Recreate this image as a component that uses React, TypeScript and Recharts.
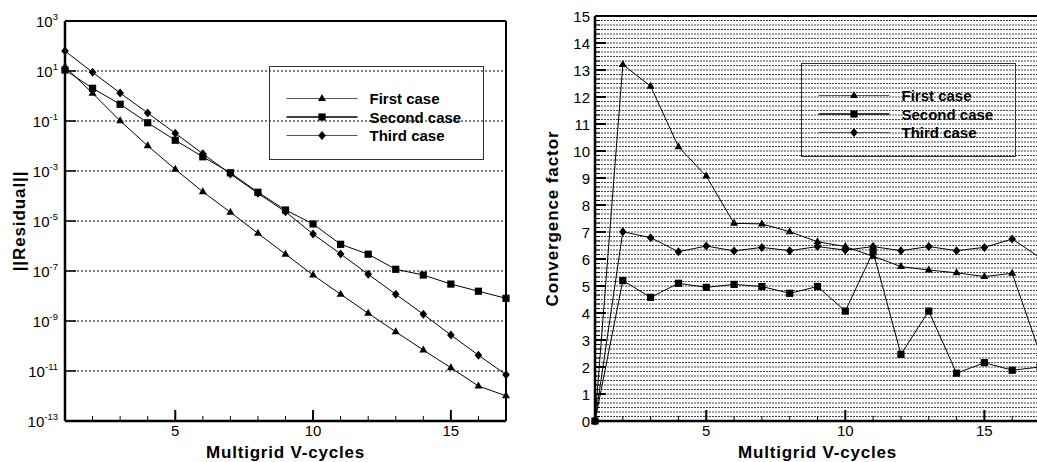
import React from 'react';
import { LineChart, Line, XAxis, YAxis, CartesianGrid, ReferenceLine, Legend, Label } from 'recharts';

// ---------- data ----------
const cycles = [1, 2, 3, 4, 5, 6, 7, 8, 9, 10, 11, 12, 13, 14, 15, 16, 17];
const seriesNames = ['First case', 'Second case', 'Third case'];

const residualFirst = [14.8, 1.29, 0.102, 1.02e-2, 1.17e-3, 1.48e-4, 2.24e-5, 3.2e-6, 4.7e-7, 6.9e-8, 1.17e-8, 2.04e-9, 3.7e-10, 6.9e-11, 1.35e-11, 2.5e-12, 1.02e-12];
const residualSecond = [11.0, 2.04, 0.468, 8.5e-2, 1.7e-2, 3.7e-3, 8.5e-4, 1.41e-4, 2.75e-5, 7.6e-6, 1.17e-6, 4.7e-7, 1.17e-7, 6.9e-8, 3.0e-8, 1.55e-8, 8.1e-9];
const residualThird = [63.1, 8.9, 1.32, 0.209, 3.24e-2, 4.9e-3, 7.6e-4, 1.29e-4, 2.34e-5, 3.0e-6, 4.8e-7, 7.4e-8, 1.17e-8, 1.86e-9, 2.75e-10, 4.3e-11, 7.1e-12];

const factorFirst = [0, 13.2, 12.4, 10.16, 9.07, 7.32, 7.3, 7.01, 6.64, 6.46, 6.1, 5.72, 5.59, 5.49, 5.35, 5.47, 2.5];
const factorSecond = [0, 5.2, 4.58, 5.1, 4.95, 5.06, 4.98, 4.73, 4.98, 4.07, 6.27, 2.47, 4.07, 1.77, 2.16, 1.88, 2.0];
const factorThird = [0, 7.01, 6.79, 6.27, 6.48, 6.3, 6.43, 6.31, 6.46, 6.33, 6.46, 6.31, 6.46, 6.31, 6.43, 6.74, 6.05];

// ---------- ticks ----------
const xTicks = cycles;
const xMajorTicks = [5, 10, 15];
const residualTicks = [1e3, 1e1, 1e-1, 1e-3, 1e-5, 1e-7, 1e-9, 1e-11, 1e-13];
const factorMinorPerUnit = 6;
const factorTicks = Array.from({ length: 15 * factorMinorPerUnit + 1 }, (_, i) => i / factorMinorPerUnit);

// ---------- tables ----------
const residualData = cycles.map((c, i) => ({
  cycle: c,
  first: residualFirst[i],
  second: residualSecond[i],
  third: residualThird[i],
}));
const factorData = cycles.map((c, i) => ({
  cycle: c,
  first: factorFirst[i],
  second: factorSecond[i],
  third: factorThird[i],
}));

const FONT = "'Liberation Sans', Arial, Helvetica, sans-serif";
const TICK_FONT = 15;

// ---------- markers ----------
const Marker = ({ shape, cx, cy }: { shape: number; cx: number; cy: number }) => {
  if (shape === 0) {
    return <polygon points={`${cx},${cy - 4.5} ${cx - 4},${cy + 2.5} ${cx + 4},${cy + 2.5}`} fill="#000" />;
  }
  if (shape === 1) {
    return <rect x={cx - 3.6} y={cy - 3.6} width={7.2} height={7.2} fill="#000" />;
  }
  return <polygon points={`${cx},${cy - 4.5} ${cx + 3.8},${cy} ${cx},${cy + 4.5} ${cx - 3.8},${cy}`} fill="#000" />;
};

const makeDot = (shape: number) => (props: any) => {
  const { cx, cy, index } = props;
  if (cx == null || cy == null || isNaN(cx) || isNaN(cy)) return <g key={`d${shape}-${index}`} />;
  return (
    <g key={`d${shape}-${index}`}>
      <Marker shape={shape} cx={cx} cy={cy} />
    </g>
  );
};

// ---------- ticks renderers ----------
const XTick = (props: any) => {
  const { x, y, payload } = props;
  const v = payload.value;
  const major = xMajorTicks.includes(v);
  return (
    <g>
      <line x1={x} x2={x} y1={y} y2={y - (major ? 11 : 5)} stroke="#000" strokeWidth={major ? 2 : 1} />
      {major && (
        <text x={x} y={y + 15} textAnchor="middle" fontSize={TICK_FONT} fontFamily={FONT} fill="#000">
          {v}
        </text>
      )}
    </g>
  );
};

const LogTick = (props: any) => {
  const { x, y, payload } = props;
  const e = Math.round(Math.log10(payload.value));
  return (
    <g>
      <line x1={x} x2={x + 11} y1={y} y2={y} stroke="#000" strokeWidth={1.5} />
      <text x={x - 7} y={y + 6} textAnchor="end" fontSize={TICK_FONT} fontFamily={FONT} fill="#000">
        10
        <tspan dy={-7} fontSize={9.5}>
          {String(e)}
        </tspan>
      </text>
    </g>
  );
};

const FactorTick = (props: any) => {
  const { x, y, payload } = props;
  const v = payload.value;
  const major = Math.abs(v - Math.round(v)) < 1e-6;
  return (
    <g>
      <line x1={x} x2={x + (major ? 11 : 5)} y1={y} y2={y} stroke="#000" strokeWidth={major ? 2 : 1} />
      {major && (
        <text x={x - 5} y={y + 5.5} textAnchor="end" fontSize={TICK_FONT} fontFamily={FONT} fill="#000">
          {Math.round(v)}
        </text>
      )}
    </g>
  );
};

// ---------- legend ----------
const legendStroke = ['#555', '#000', '#555'];
const legendWidth = [1, 1.5, 1];
const LegendBox = () => (
  <svg width={215} height={94} style={{ display: 'block', overflow: 'visible' }}>
    <rect x={0.5} y={0.5} width={214} height={93} fill="none" stroke="#333" strokeWidth={1} />
    {seriesNames.map((name, i) => {
      const yy = 32.5 + i * 18.5;
      return (
        <g key={name}>
          <line x1={17.5} x2={88.5} y1={yy} y2={yy} stroke={legendStroke[i]} strokeWidth={legendWidth[i]} />
          <Marker shape={i} cx={53} cy={yy} />
          <text x={100.5} y={yy + 5.5} fontSize={15} fontWeight="bold" fontFamily={FONT} fill="#000">
            {name}
          </text>
        </g>
      );
    })}
  </svg>
);

// ---------- titles ----------
const xTitle = (props: any) => {
  const vb = props.viewBox || { x: 0, y: 0, width: 0, height: 0 };
  return (
    <text
      x={vb.x + vb.width / 2}
      y={vb.y + 37}
      textAnchor="middle"
      fontSize={17}
      fontWeight="bold"
      letterSpacing={0.8}
      fontFamily={FONT}
      fill="#000"
    >
      Multigrid V-cycles
    </text>
  );
};

const yTitle = (text: string, dx: number, spacing: number) => (props: any) => {
  const vb = props.viewBox || { x: 0, y: 0, width: 0, height: 0 };
  const x = vb.x + dx;
  const y = vb.y + vb.height / 2;
  return (
    <text
      x={x}
      y={y}
      transform={`rotate(-90, ${x}, ${y})`}
      textAnchor="middle"
      fontSize={17}
      fontWeight="bold"
      letterSpacing={spacing}
      fontFamily={FONT}
      fill="#000"
    >
      {text}
    </text>
  );
};

const dotShapes = [0, 1, 2];
const keys = ['first', 'second', 'third'];

export default function App() {
  return (
    <div
      style={{
        position: 'absolute',
        left: 0,
        top: 0,
        width: 1037,
        height: 462,
        overflow: 'hidden',
        background: '#fff',
      }}
    >
      {/* Left: residual */}
      <div style={{ position: 'absolute', left: 0, top: 0 }}>
        <LineChart width={520} height={462} data={residualData} margin={{ top: 21, right: 14, bottom: 11, left: 8 }}>
          <CartesianGrid vertical={false} stroke="#000" strokeDasharray="2 2" strokeWidth={1} />
          <XAxis
            dataKey="cycle"
            type="number"
            domain={[1, 17]}
            ticks={xTicks}
            interval={0}
            height={30}
            tickSize={0}
            tickMargin={0}
            tickLine={false}
            tick={<XTick />}
            axisLine={{ stroke: '#000', strokeWidth: 2.5 }}
          >
            <Label content={xTitle} />
          </XAxis>
          <YAxis
            scale="log"
            domain={[1e-13, 1e3]}
            allowDataOverflow
            ticks={residualTicks}
            interval={0}
            width={57}
            tickSize={0}
            tickMargin={0}
            tickLine={false}
            tick={<LogTick />}
            axisLine={{ stroke: '#000', strokeWidth: 2.5 }}
          >
            <Label content={yTitle('||Residual||', 17, 0.9)} />
          </YAxis>
          <ReferenceLine y={1e3} stroke="#000" strokeWidth={2} />
          <ReferenceLine x={17} stroke="#000" strokeWidth={2} />
          {keys.map((k, i) => (
            <Line
              key={k}
              dataKey={k}
              name={seriesNames[i]}
              stroke="#000"
              strokeWidth={1}
              dot={makeDot(dotShapes[i])}
              activeDot={false}
              isAnimationActive={false}
            />
          ))}
          <Legend
            verticalAlign="middle"
            align="center"
            layout="horizontal"
            content={() => <LegendBox />}
            wrapperStyle={{ left: 269, top: 66, width: 215, height: 94 }}
          />
        </LineChart>
      </div>

      {/* Right: convergence factor */}
      <div style={{ position: 'absolute', left: 520, top: 0 }}>
        <LineChart width={540} height={462} data={factorData} margin={{ top: 16, right: 20, bottom: 11, left: 8 }}>
          <CartesianGrid vertical={false} stroke="#444" strokeDasharray="2 1" strokeWidth={1} />
          <XAxis
            dataKey="cycle"
            type="number"
            domain={[1, 17]}
            ticks={xTicks}
            interval={0}
            height={30}
            tickSize={0}
            tickMargin={0}
            tickLine={false}
            tick={<XTick />}
            axisLine={{ stroke: '#000', strokeWidth: 2.5 }}
          >
            <Label content={xTitle} />
          </XAxis>
          <YAxis
            type="number"
            domain={[0, 15]}
            ticks={factorTicks}
            interval={0}
            width={67}
            tickSize={0}
            tickMargin={0}
            tickLine={false}
            tick={<FactorTick />}
            axisLine={{ stroke: '#000', strokeWidth: 2.5 }}
          >
            <Label content={yTitle('Convergence factor', 29.5, 0.9)} />
          </YAxis>
          <ReferenceLine y={15} stroke="#000" strokeWidth={2} />
          <ReferenceLine x={17} stroke="#000" strokeWidth={2} />
          {keys.map((k, i) => (
            <Line
              key={k}
              dataKey={k}
              name={seriesNames[i]}
              stroke="#000"
              strokeWidth={1}
              dot={makeDot(dotShapes[i])}
              activeDot={false}
              isAnimationActive={false}
            />
          ))}
          <Legend
            verticalAlign="middle"
            align="center"
            layout="horizontal"
            content={() => <LegendBox />}
            wrapperStyle={{ left: 281, top: 63, width: 215, height: 94 }}
          />
        </LineChart>
      </div>
    </div>
  );
}
